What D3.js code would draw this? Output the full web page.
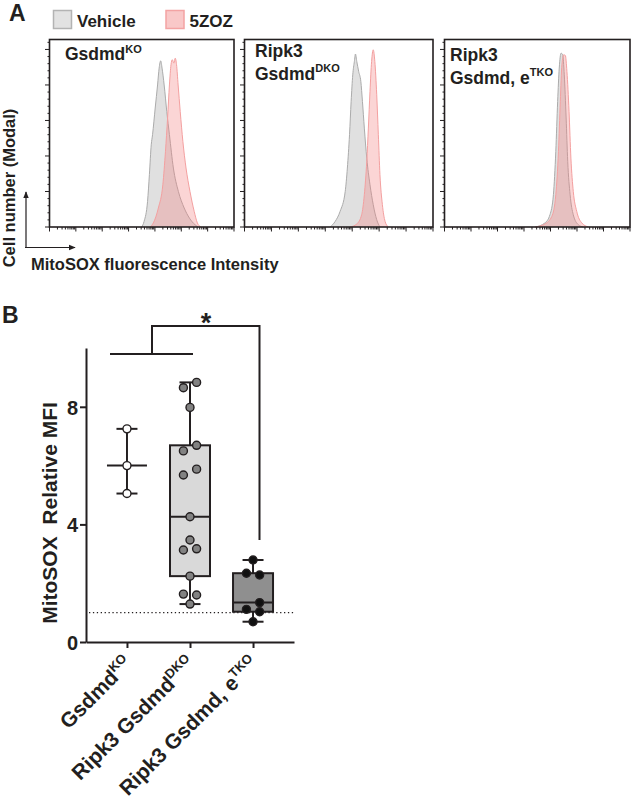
<!DOCTYPE html>
<html><head><meta charset="utf-8">
<script src="https://cdn.jsdelivr.net/npm/d3@7"></script>
<style>
body{margin:0;background:#fff}
text{font-family:"Liberation Sans",Arial,Helvetica,sans-serif;font-weight:bold;fill:#231f20}
</style>
</head><body>
<svg id="chart" width="632" height="807"></svg>
<script>
// ---------------- DATA ----------------
// Panel A: histogram curves, [log10 MitoSOX intensity, % of max (modal)]
const panelTitles = [["", "Gsdmd", "KO"], ["Ripk3", "Gsdmd", "DKO"], ["Ripk3", "Gsdmd, e", "TKO"]];
const legendLabels = ["Vehicle", "5ZOZ"];

const vehicleKO = [[3.50,0],[3.59,3.2],[3.72,14.4],[3.79,29.5],[3.86,46.3],[3.91,52],[4.01,67],[4.10,80],[4.16,89.5],[4.22,93.6],[4.27,89.5],[4.35,80],[4.45,65],[4.55,52],[4.70,33.2],[4.89,20],[5.11,10.7],[5.31,5],[5.52,1.3],[5.65,0]];
const zozKO = [[3.82,0],[3.94,2.3],[4.13,10.7],[4.30,23.8],[4.40,42.6],[4.48,61.4],[4.55,80],[4.61,91.4],[4.66,94.2],[4.72,92.3],[4.77,95.1],[4.82,91.4],[4.88,80],[4.96,65],[5.06,48.2],[5.18,33.2],[5.33,20],[5.49,8.8],[5.61,2.3],[5.74,0]];

const vehicleDKO = [[3.18,0],[3.37,3.2],[3.55,8.8],[3.74,20],[3.82,33.2],[3.90,52],[3.96,70.7],[4.02,85.7],[4.08,93.2],[4.12,97.4],[4.17,93.2],[4.24,87.6],[4.32,82],[4.38,70.7],[4.45,55.7],[4.54,38.8],[4.66,23.8],[4.78,12.6],[4.91,4.1],[5.03,0]];
const zozDKO = [[3.92,0],[4.17,1.7],[4.35,6.9],[4.45,18.2],[4.54,37],[4.60,55.7],[4.66,76.4],[4.72,93.2],[4.78,99.8],[4.84,93.2],[4.91,74.5],[4.97,52],[5.03,29.5],[5.12,12.6],[5.22,3.2],[5.34,0]];

const vehicleTKO = [[3.42,0],[3.79,2.3],[3.98,6.9],[4.11,18.2],[4.20,42.6],[4.27,70.7],[4.33,89.5],[4.40,97.9],[4.46,97],[4.52,85.7],[4.59,61.4],[4.65,37],[4.74,18.2],[4.86,6.9],[5.05,1.3],[5.24,0]];
const zozTKO = [[3.42,0],[3.79,1.7],[4.05,6],[4.20,18.2],[4.30,42.6],[4.37,70.7],[4.43,91.4],[4.50,97],[4.56,96.6],[4.62,87.6],[4.70,65],[4.77,38.8],[4.86,20],[4.99,8.8],[5.18,2.3],[5.43,0]];

const vehicleSeries = [vehicleKO, vehicleDKO, vehicleTKO];
const zozSeries = [zozKO, zozDKO, zozTKO];

// Panel B: MitoSOX relative MFI
const groups = ["Gsdmd", "Ripk3 Gsdmd", "Ripk3 Gsdmd, e"];
const groupSups = ["KO", "DKO", "TKO"];
const valsKO = [7.25, 6.0, 5.05];
const colsKO = [0, 0, 0];
const valsDKO = [8.83, 8.65, 7.98, 6.69, 6.5, 5.88, 5.68, 4.26, 3.47, 3.17, 3.13, 2.24, 1.63, 1.6, 1.29];
const colsDKO = [1, -1, 0, 1, -1, 1, -1, 0, 0, 1, -1, 0, -1, 1, 0];
const valsTKO = [2.79, 2.34, 2.28, 1.34, 1.11, 1.03, 0.69];
const colsTKO = [0, -1, 1, 1, -1, 1, 0];
const yTicksB = [0, 4, 8];
const baselineValue = 1;

// ---------------- DRAW ----------------
const svg = d3.select("#chart");
svg.append("rect").attr("width",632).attr("height",807).attr("fill","#fff");
const ink = "#231f20";

function supText(g, x, y, main, sup, size, supSize) {
  const t = g.append("text").attr("x", x).attr("y", y).style("font-size", size + "px");
  t.append("tspan").text(main);
  if (sup) t.append("tspan").attr("dy", -size * 0.42).style("font-size", supSize + "px").text(sup);
  return t;
}

// ---- Panel A ----
svg.append("text").attr("x", 9).attr("y", 20.5).style("font-size", "23px").text("A");
// legend
const legFill = ["#e2e2e2", "#f9c8c8"], legStroke = ["#b3b3b3", "#f3a3a3"];
const legX = [53.5, 166];
legendLabels.forEach((l, i) => {
  svg.append("rect").attr("x", legX[i]).attr("y", 10.5).attr("width", 18).attr("height", 18)
    .attr("fill", legFill[i]).attr("stroke", legStroke[i]).attr("stroke-width", 1.5);
  svg.append("text").attr("x", legX[i] + 23.5).attr("y", 26.5).style("font-size", "17px").text(l);
});

const panelRanges = [[49.5, 234], [244.5, 433], [444.5, 630]];
const topA = 39.5, botA = 227;
const yA = d3.scaleLinear().domain([0, 105.6]).range([botA, topA]);

panelRanges.forEach((r, i) => {
  const g = svg.append("g");
  const xA = d3.scaleLog().domain([1, 1e7]).range(r);
  const area = d3.area().curve(d3.curveMonotoneX)
    .x(d => xA(Math.pow(10, d[0]))).y0(yA(0)).y1(d => yA(d[1]));
  const line = d3.line().curve(d3.curveMonotoneX)
    .x(d => xA(Math.pow(10, d[0]))).y(d => yA(d[1]));
  g.append("path").datum(vehicleSeries[i]).attr("d", area).attr("fill", "rgba(198,198,198,0.55)");
  g.append("path").datum(vehicleSeries[i]).attr("d", line).attr("fill", "none").attr("stroke", "#ababab").attr("stroke-width", 1);
  g.append("path").datum(zozSeries[i]).attr("d", area).attr("fill", "rgba(242,128,128,0.33)");
  g.append("path").datum(zozSeries[i]).attr("d", line).attr("fill", "none").attr("stroke", "#f4a0a0").attr("stroke-width", 1);

  // x ticks (log)
  const xt = xA.ticks();
  g.selectAll(".xt").data(xt).join("line")
    .attr("x1", d => xA(d)).attr("x2", d => xA(d))
    .attr("y1", botA).attr("y2", d => botA + (Math.abs(Math.log10(d) % 1) < 1e-9 ? 4.5 : 2.5))
    .attr("stroke", ink).attr("stroke-width", 1);
  // y ticks
  const ytMaj = d3.range(0, 101, 20), ytMin = d3.range(0, 105, 4);
  g.selectAll(".ym").data(ytMin).join("line")
    .attr("x1", r[0]).attr("x2", d => r[0] - (ytMaj.includes(d) ? 4.5 : 2))
    .attr("y1", d => yA(d)).attr("y2", d => yA(d)).attr("stroke", ink).attr("stroke-width", 1);
  // frame
  g.append("rect").attr("x", r[0]).attr("y", topA).attr("width", r[1] - r[0]).attr("height", botA - topA)
    .attr("fill", "none").attr("stroke", ink).attr("stroke-width", 1.6);
});

// titles
supText(svg, 65, 60, panelTitles[0][1], panelTitles[0][2], 17.5, 11);
svg.append("text").attr("x", 255).attr("y", 57).style("font-size", "17.5px").text(panelTitles[1][0]);
supText(svg, 255, 79.5, panelTitles[1][1], panelTitles[1][2], 17.5, 11);
svg.append("text").attr("x", 450).attr("y", 61).style("font-size", "17.5px").text(panelTitles[2][0]);
supText(svg, 450, 83.5, panelTitles[2][1], panelTitles[2][2], 17.5, 11);

// axis arrows
svg.append("defs").append("marker").attr("id", "arr").attr("viewBox", "0 0 10 10").attr("refX", 9).attr("refY", 5)
  .attr("markerWidth", 6).attr("markerHeight", 6).attr("orient", "auto")
  .append("path").attr("d", "M0,1 L10,5 L0,9 Z").attr("fill", ink);
svg.append("line").attr("x1", 26).attr("y1", 248).attr("x2", 26).attr("y2", 192)
  .attr("stroke", ink).attr("stroke-width", 1.2).attr("marker-end", "url(#arr)");
svg.append("line").attr("x1", 25).attr("y1", 247.5).attr("x2", 75).attr("y2", 247.5)
  .attr("stroke", ink).attr("stroke-width", 1.2).attr("marker-end", "url(#arr)");
svg.append("text").attr("x", 31).attr("y", 270).style("font-size", "16.5px").text("MitoSOX fluorescence Intensity");
svg.append("text").attr("transform", "translate(15,188) rotate(-90)").attr("text-anchor", "middle")
  .style("font-size", "16.5px").text("Cell number (Modal)");

// ---- Panel B ----
svg.append("text").attr("x", 2).attr("y", 322.5).style("font-size", "23px").text("B");
const yB = d3.scaleLinear().domain([0, 10]).range([642, 348]);
const xB = d3.scalePoint().domain(groups).range([86, 294]).padding(0.65);
const jit = 6.6;

const yAxis = svg.append("g").attr("transform", "translate(86,0)")
  .call(d3.axisLeft(yB).tickValues(yTicksB).tickSize(6).tickSizeOuter(0).tickFormat(d3.format("d")));
yAxis.select(".domain").attr("stroke", ink).attr("stroke-width", 2);
yAxis.selectAll(".tick line").attr("stroke", ink).attr("stroke-width", 2);
yAxis.selectAll(".tick text").attr("x", -8).attr("dy", "0.36em").style("font-size", "20px")
  .style("font-family", '"Liberation Sans",Arial,sans-serif').style("font-weight", "bold").attr("fill", ink);

const xAxis = svg.append("g").attr("transform", "translate(0,642)")
  .call(d3.axisBottom(xB).tickSize(6).tickSizeOuter(0).tickFormat(""));
xAxis.select(".domain").attr("stroke", ink).attr("stroke-width", 2);
xAxis.selectAll(".tick line").attr("stroke", ink).attr("stroke-width", 2);

// x labels
groups.forEach((gname, i) => {
  const t = svg.append("text").attr("text-anchor", "end")
    .attr("transform", `translate(${xB(gname) + 6.5},665) rotate(-45)`).style("font-size", "21px");
  t.append("tspan").text(gname);
  t.append("tspan").attr("dy", -8.5).style("font-size", "13px").text(groupSups[i]);
});

svg.append("text").attr("transform", "translate(56.5,513) rotate(-90)").attr("text-anchor", "middle")
  .style("font-size", "21px").attr("xml:space", "preserve").text("MitoSOX  Relative MFI");

// dotted baseline
svg.append("line").attr("x1", 89).attr("x2", 294).attr("y1", yB(baselineValue)).attr("y2", yB(baselineValue))
  .attr("stroke", ink).attr("stroke-width", 1.3).attr("stroke-dasharray", "1.3,2.6");

// quartiles ((n+1)p method)
function q(sorted, p) {
  const pos = (sorted.length + 1) * p - 1;
  const lo = Math.floor(pos), hi = Math.ceil(pos);
  return sorted[lo] + (sorted[hi] - sorted[lo]) * (pos - lo);
}
const lw = 2;
// group 1: range + median bar
{
  const cx = xB(groups[0]);
  const s = valsKO.slice().sort(d3.ascending);
  svg.append("line").attr("x1", cx).attr("x2", cx).attr("y1", yB(s[0])).attr("y2", yB(s[s.length - 1])).attr("stroke", ink).attr("stroke-width", lw);
  [s[0], s[s.length - 1]].forEach(v => svg.append("line").attr("x1", cx - 10.5).attr("x2", cx + 10.5).attr("y1", yB(v)).attr("y2", yB(v)).attr("stroke", ink).attr("stroke-width", lw));
  const m = d3.median(s);
  svg.append("line").attr("x1", cx - 20).attr("x2", cx + 20).attr("y1", yB(m)).attr("y2", yB(m)).attr("stroke", ink).attr("stroke-width", lw);
}
// box groups
function boxGroup(gname, vals, fill) {
  const cx = xB(gname);
  const s = vals.slice().sort(d3.ascending);
  const q1 = q(s, 0.25), q3 = q(s, 0.75), med = d3.median(s), mn = s[0], mx = s[s.length - 1];
  svg.append("line").attr("x1", cx).attr("x2", cx).attr("y1", yB(mn)).attr("y2", yB(mx)).attr("stroke", ink).attr("stroke-width", lw);
  [mn, mx].forEach(v => svg.append("line").attr("x1", cx - 10.5).attr("x2", cx + 10.5).attr("y1", yB(v)).attr("y2", yB(v)).attr("stroke", ink).attr("stroke-width", lw));
  svg.append("rect").attr("x", cx - 20).attr("width", 40).attr("y", yB(q3)).attr("height", yB(q1) - yB(q3))
    .attr("fill", fill).attr("stroke", ink).attr("stroke-width", lw);
  svg.append("line").attr("x1", cx - 20).attr("x2", cx + 20).attr("y1", yB(med)).attr("y2", yB(med)).attr("stroke", ink).attr("stroke-width", lw);
}
boxGroup(groups[1], valsDKO, "#d9d9d9");
boxGroup(groups[2], valsTKO, "#8f8f8f");

function dots(gname, vals, cols, fill) {
  const cx = xB(gname);
  svg.selectAll(null).data(vals.map((v, i) => [v, cols[i]])).join("circle")
    .attr("cx", d => cx + d[1] * jit).attr("cy", d => yB(d[0])).attr("r", 4)
    .attr("fill", fill).attr("stroke", ink).attr("stroke-width", 1.4);
}
dots(groups[0], valsKO, colsKO, "#ffffff");
dots(groups[1], valsDKO, colsDKO, "#828282");
dots(groups[2], valsTKO, colsTKO, "#111111");

// significance bracket
const br = d3.path();
br.moveTo(110, 354); br.lineTo(193, 354);
br.moveTo(152, 354); br.lineTo(152, 326); br.lineTo(259.5, 326); br.lineTo(259.5, 540);
svg.append("path").attr("d", br.toString()).attr("fill", "none").attr("stroke", ink).attr("stroke-width", 2);
svg.append("text").attr("x", 206).attr("y", 332).attr("text-anchor", "middle").style("font-size", "27px").text("*");
</script>
</body></html>
